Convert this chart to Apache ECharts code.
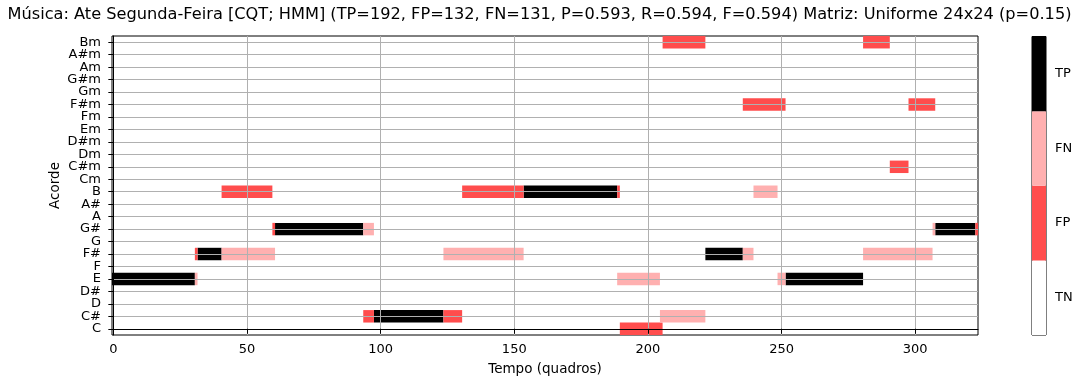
<!DOCTYPE html>
<html>
<head>
<meta charset="utf-8">
<script src="https://cdn.jsdelivr.net/npm/echarts@6/dist/echarts.min.js"></script>
<style>
  html, body { margin: 0; padding: 0; background: #fff; }
  #chart { width: 1079px; height: 376px; }
</style>
</head>
<body>
<div id="chart"></div>
<script>
// Chord rows, bottom (C) to top (Bm)
const chords = ['C', 'C#', 'D', 'D#', 'E', 'F', 'F#', 'G', 'G#', 'A', 'A#', 'B',
  'Cm', 'C#m', 'Dm', 'D#m', 'Em', 'Fm', 'F#m', 'Gm', 'G#m', 'Am', 'A#m', 'Bm'];

// Runs of frames per outcome: [chord, first frame, last frame]
const tpRuns = [
  ['E', 0, 30], ['F#', 32, 40], ['G#', 61, 93], ['C#', 98, 123],
  ['B', 154, 188], ['F#', 222, 235], ['E', 252, 280], ['G#', 308, 322]
];
const fpRuns = [
  ['F#', 31, 31], ['B', 41, 59], ['G#', 60, 60], ['C#', 94, 97],
  ['C#', 124, 130], ['B', 131, 153], ['B', 189, 189], ['C', 190, 205],
  ['Bm', 206, 221], ['F#m', 236, 251], ['Bm', 281, 290], ['C#m', 291, 297],
  ['F#m', 298, 307], ['G#', 323, 323]
];
const fnRuns = [
  ['E', 31, 31], ['F#', 41, 60], ['G#', 94, 97], ['F#', 124, 153],
  ['E', 189, 204], ['C#', 205, 221], ['F#', 236, 239], ['B', 240, 248],
  ['E', 249, 251], ['F#', 281, 306], ['G#', 307, 307]
];

const frameCount = 324;
const xTicks = [0, 50, 100, 150, 200, 250, 300];
const classNames = ['TN', 'FP', 'FN', 'TP'];
const classColors = ['#ffffff', '#ff4d4d', '#ffb0b0', '#000000'];

const titleText = 'Música: Ate Segunda-Feira [CQT; HMM] (TP=192, FP=132, FN=131, P=0.593, R=0.594, F=0.594) Matriz: Uniforme 24x24 (p=0.15)';

const rowIndex = chords.map((_, i) => i);
const FONT = 'DejaVu Sans';

function runsToData(runs) {
  return runs.map(r => [r[1], r[2], chords.indexOf(r[0])]);
}

// One rectangle per run, spanning whole frame cells and one chord row
function renderRun(params, api) {
  const s = api.value(0), e = api.value(1), row = api.value(2);
  const p0 = api.coord([s - 0.5, row + 0.5]);
  const p1 = api.coord([e + 0.5, row - 0.5]);
  return {
    type: 'rect',
    shape: { x: p0[0], y: p0[1], width: p1[0] - p0[0], height: p1[1] - p0[1] },
    style: { fill: api.visual('color') }
  };
}

function runSeries(name, runs, color) {
  return {
    name: name,
    type: 'custom',
    xAxisIndex: 0,
    yAxisIndex: 0,
    renderItem: renderRun,
    itemStyle: { color: color },
    encode: { x: [0, 1], y: 2 },
    data: runsToData(runs),
    clip: true,
    silent: true,
    z: 2
  };
}

const chart = echarts.init(document.getElementById('chart'), null, { renderer: 'canvas' });

chart.setOption({
  animation: false,
  backgroundColor: '#ffffff',
  textStyle: { fontFamily: FONT, color: '#000' },
  title: {
    text: titleText,
    left: 'center',
    top: 2,
    textStyle: { fontFamily: FONT, fontSize: 16.2, fontWeight: 'normal', color: '#000' }
  },
  grid: [
    {
      left: 112, right: 101, top: 36, bottom: 41,
      outerBoundsMode: 'none', containLabel: false,
      show: true, borderColor: '#000', borderWidth: 1, backgroundColor: '#fff'
    },
    {
      left: 1032, width: 14, top: 36.5, height: 298.5,
      outerBoundsMode: 'none', containLabel: false,
      show: true, borderColor: '#000', borderWidth: 1, backgroundColor: '#fff'
    }
  ],
  xAxis: [
    {
      gridIndex: 0,
      type: 'value',
      min: -0.5,
      max: frameCount - 0.5,
      z: 5,
      name: 'Tempo (quadros)',
      nameLocation: 'middle',
      nameGap: 27,
      nameTextStyle: { fontFamily: FONT, fontSize: 13.5, color: '#000' },
      axisLine: { show: true, lineStyle: { color: '#000', width: 1 } },
      axisTick: { show: true, length: 5, inside: false, customValues: xTicks, lineStyle: { color: '#000' } },
      axisLabel: { show: true, customValues: xTicks, fontFamily: FONT, fontSize: 13, color: '#000', margin: 8 },
      splitLine: { show: true, lineStyle: { color: '#b0b0b0', width: 1 } }
    },
    {
      gridIndex: 1,
      type: 'value',
      min: 0,
      max: 1,
      show: false
    }
  ],
  yAxis: [
    {
      // numeric row axis: positions the runs, ticks and row grid lines
      gridIndex: 0,
      type: 'value',
      min: -0.5,
      max: chords.length - 0.5,
      z: 5,
      name: 'Acorde',
      nameLocation: 'middle',
      nameGap: 50,
      nameRotate: 90,
      nameTextStyle: { fontFamily: FONT, fontSize: 13.5, color: '#000' },
      axisLine: { show: true, lineStyle: { color: '#000', width: 1 } },
      axisTick: { show: true, length: 5, customValues: rowIndex, lineStyle: { color: '#000' } },
      axisLabel: { show: false, customValues: rowIndex },
      splitLine: { show: true, lineStyle: { color: '#b0b0b0', width: 1 } }
    },
    {
      gridIndex: 1,
      type: 'category',
      data: classNames,
      position: 'right',
      axisLine: { show: false },
      axisTick: { show: true, alignWithLabel: true, length: 5, lineStyle: { color: '#000' } },
      axisLabel: { fontFamily: FONT, fontSize: 13, color: '#000', margin: 9 },
      splitLine: { show: false }
    },
    {
      // chord names, one per row
      gridIndex: 0,
      type: 'category',
      data: chords,
      position: 'left',
      z: 5,
      axisLine: { show: false },
      axisTick: { show: false },
      axisLabel: { interval: 0, fontFamily: FONT, fontSize: 13, color: '#000', margin: 11 },
      splitLine: { show: false }
    }
  ],
  series: [
    runSeries('TP', tpRuns, classColors[3]),
    runSeries('FP', fpRuns, classColors[1]),
    runSeries('FN', fnRuns, classColors[2]),
    {
      name: 'legenda',
      type: 'bar',
      xAxisIndex: 1,
      yAxisIndex: 1,
      barCategoryGap: '0%',
      silent: true,
      z: 1,
      data: classNames.map((c, i) => ({ value: 1, itemStyle: { color: classColors[i] } }))
    }
  ]
});
</script>
</body>
</html>
